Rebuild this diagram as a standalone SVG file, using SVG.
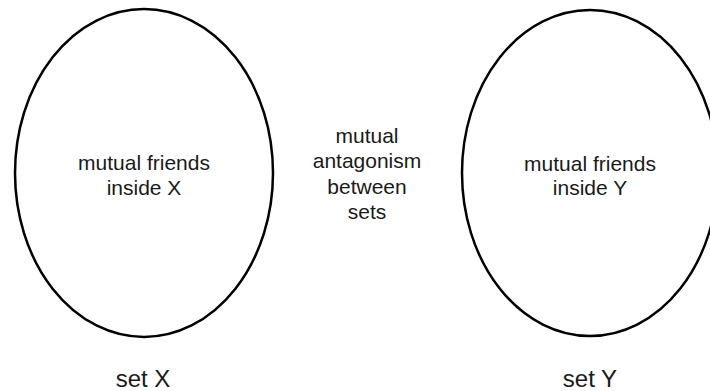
<svg xmlns="http://www.w3.org/2000/svg" width="710" height="391" viewBox="0 0 710 391">
<style>
.set{fill:#fff;stroke:#000;stroke-width:2.5}
.t{font-family:"Liberation Sans",Arial,sans-serif;fill:#1a1a1a;text-anchor:middle;font-size:21px}
.lbl{font-family:"Liberation Sans",Arial,sans-serif;fill:#1a1a1a;text-anchor:middle;font-size:24px}
</style>
<rect width="710" height="391" fill="#fff"/>
<g id="setX">
<ellipse class="set" cx="144" cy="173" rx="129" ry="164"/>
<text class="t" x="144" y="170">mutual friends</text>
<text class="t" x="144" y="195">inside X</text>
<text class="lbl" x="143" y="387">set X</text>
</g>
<g id="setY">
<ellipse class="set" cx="590" cy="173" rx="128" ry="163"/>
<text class="t" x="590" y="171">mutual friends</text>
<text class="t" x="590" y="195">inside Y</text>
<text class="lbl" x="590" y="387">set Y</text>
</g>
<g id="connectors"></g>
<g id="relation">
<text class="t" x="367" y="143">mutual</text>
<text class="t" x="367" y="168">antagonism</text>
<text class="t" x="367" y="194">between</text>
<text class="t" x="367" y="219">sets</text>
</g>
</svg>
